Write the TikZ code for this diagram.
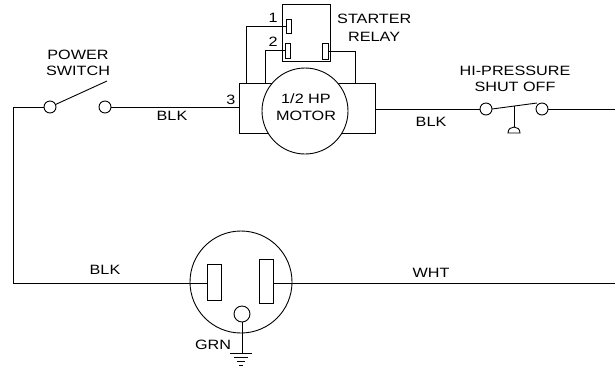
\documentclass[tikz,border=0pt]{standalone}
\usepackage{fontspec}
\setmainfont[FakeStretch=1.2]{Liberation Sans}
\tikzset{
    wire/.style={line width=0.9pt},
    contact/.style={circle,draw,line width=0.9pt,fill=white,minimum size=12pt,inner sep=0pt,outer sep=0pt},
    blade/.style={rectangle,draw,line width=0.9pt,fill=white,inner sep=0pt,outer sep=0pt},
    lbl/.style={inner sep=0pt,align=center,font=\fontsize{13.5}{16.5}\selectfont}
}
\begin{document}
\begin{tikzpicture}[x=1pt,y=-1pt]
        \useasboundingbox (0,0) rectangle (615,376);

        % Motor
        \node[blade,minimum width=136pt,minimum height=50pt] (body) at (307,108.5) {};
        \node[blade,circle,minimum size=86pt] (motor) at (305,111) {};
        \node[lbl] (motortext) at (306,107) {1/2 HP\\MOTOR};
        \node[lbl] (three) at (231,100) {3};
        % Relay
        \node[blade,minimum width=48pt,minimum height=57pt] (relay) at (306,32.5) {};
        \node[blade,minimum width=5pt,minimum height=14pt] (termone) at (288.5,26) {};
        \node[blade,minimum width=5pt,minimum height=15pt] (termtwo) at (288,50.5) {};
        \node[blade,minimum width=6pt,minimum height=16pt] (termthree) at (325,51) {};
        \coordinate (tapone) at (246,83);
        \coordinate (taptwo) at (265,83);
        \coordinate (tapthree) at (355,83);
        \draw[wire] (termone.west) -| (tapone);
        \draw[wire] (termtwo.west) -| (taptwo);
        \draw[wire] (termthree.east) -| (tapthree);
        \node[lbl] (one) at (273,18) {1};
        \node[lbl] (two) at (273,42) {2};
        \node[lbl,anchor=west] (starter) at (337,19) {STARTER};
        \node[lbl,anchor=west] (relaytext) at (348,37) {RELAY};

        % Power switch
        \node[contact] (swleft) at (50,107) {};
        \node[contact] (swright) at (105,107) {};
        \coordinate (lever) at (107,81);
        \draw[wire] (swleft) -- (lever);
        \node[lbl] (power) at (78,63) {POWER\\SWITCH};
        \node[lbl] (blkone) at (172,116) {BLK};
        \draw[wire] (swright.east) -- (body.west |- swright);

        % Hi-pressure
        \node[contact] (hpleft) at (486,109) {};
        \node[contact] (hpright) at (542,109) {};
        \coordinate (endright) at (615,109);
        \coordinate (hpbar) at (514,106);
        \coordinate (hpdome) at (514,127);
        \coordinate (hpbarend) at (537,103);
        \draw[wire] (body.east |- hpleft) -- (hpleft.west);
        \draw[wire] (hpleft.east) -- (hpbarend);
        \draw[wire] (hpright.east) -- (endright);
        \draw[wire] (hpbar) -- (hpdome);
        \draw[wire] (508,133) .. controls (508,125) and (520,125) .. (520,133) -- cycle;
        \node[lbl] (hitext) at (515,79) {HI-PRESSURE\\SHUT OFF};
        \node[lbl] (blktwo) at (431,122) {BLK};

        % Plug
        \node[blade,circle,fill=none,minimum size=102pt] (socket) at (241,282) {};
        \node[blade,minimum width=14pt,minimum height=36pt] (bladeleft) at (214,282) {};
        \node[blade,minimum width=14pt,minimum height=44pt] (bladeright) at (266,281) {};
        \node[contact,minimum size=16pt] (hole) at (242,314) {};
        \coordinate (corner) at (13,283);
        \coordinate (endlow) at (615,283);
        \draw[wire] (swleft.west) -| (corner) -- (bladeleft.west |- corner);
        \draw[wire] (bladeright.east |- corner) -- (endlow);
        \node[lbl] (blkthree) at (105,270) {BLK};
        \node[lbl] (wht) at (431,273) {WHT};
        \node[lbl] (grn) at (213,345) {GRN};

        % Ground
        \coordinate (earth) at (242,353);
        \draw[wire] (hole.south) -- (earth);
        \foreach \y/\w in {353/11,357/7,361/4,365/2}
            \draw[wire] (241-\w,\y) -- (241+\w,\y);
\end{tikzpicture}
\end{document}
